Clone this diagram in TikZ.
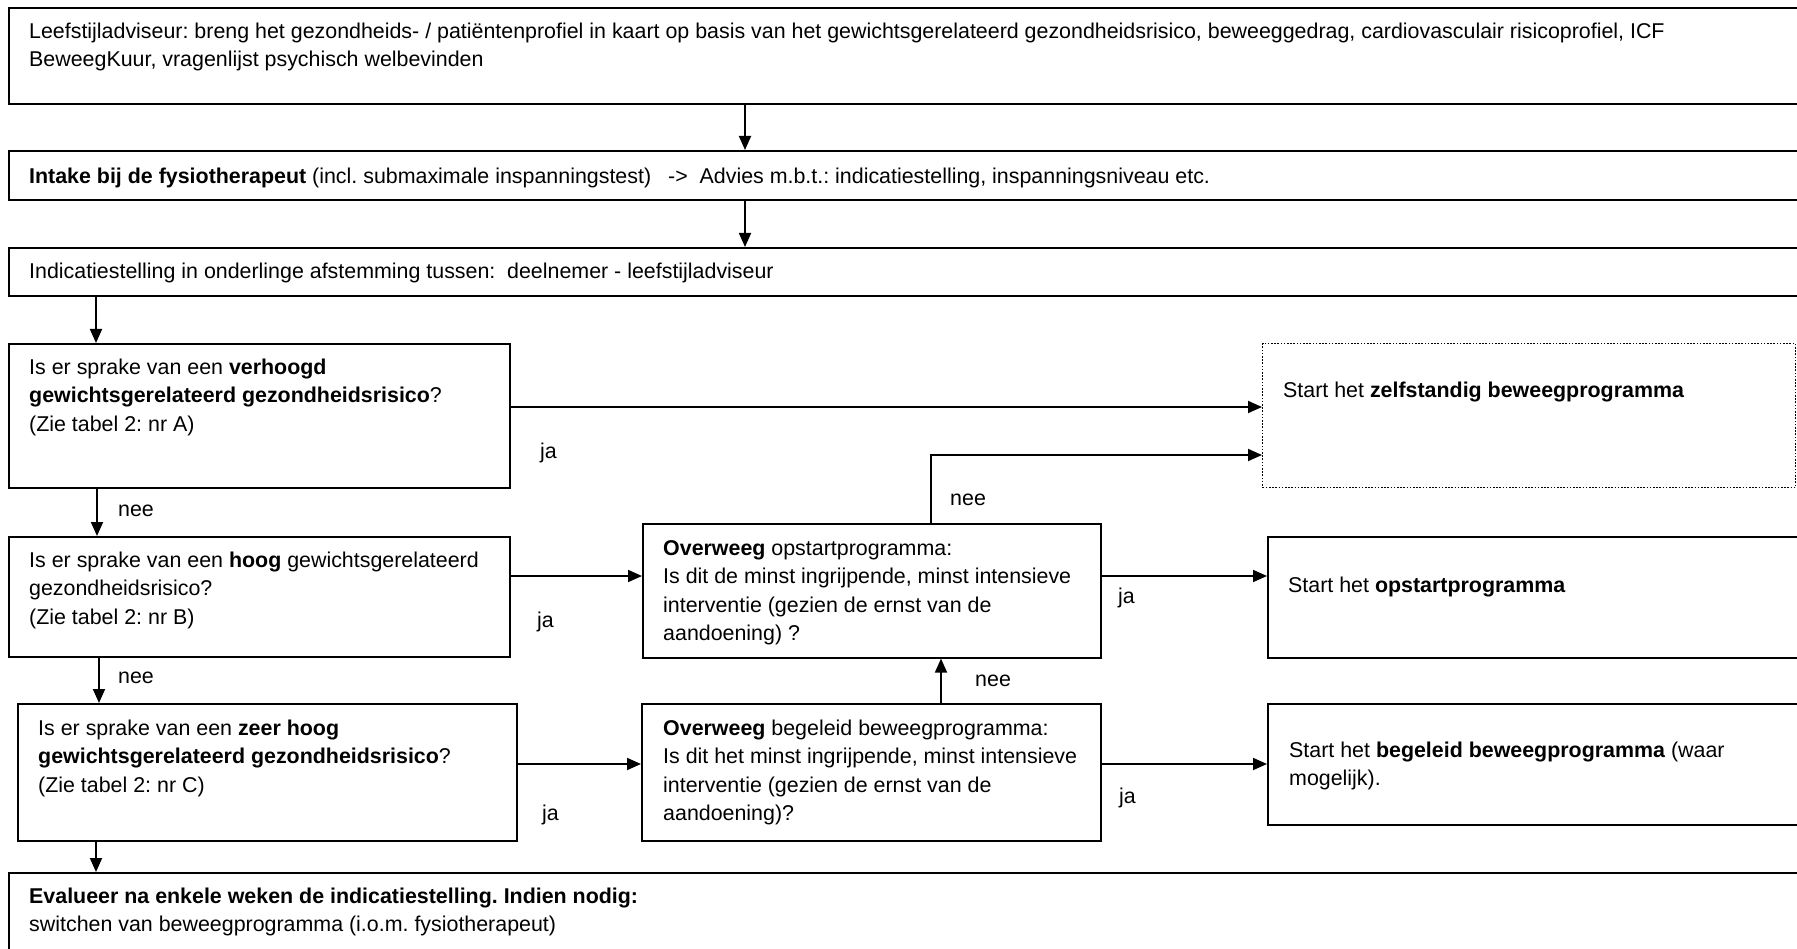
\documentclass[tikz,border=0pt]{standalone}
\usepackage{fontspec}
\setmainfont{Liberation Sans}
\usetikzlibrary{arrows.meta}
\frenchspacing
\newcommand{\fs}{\fontsize{21.4}{28.5}\selectfont\frenchspacing}
\newcommand{\mystrut}{\rule{0pt}{20pt}}
\tikzset{
  box/.style={draw, line width=1.6pt, rectangle, anchor=north west, inner sep=0pt},
  dotbox/.style={draw, line width=1.3pt, dash pattern=on 1.6pt off 1.6pt, rectangle, anchor=north west, inner sep=0pt},
  txt/.style={anchor=north west, inner sep=0pt, align=left, font=\fs},
  lab/.style={anchor=base west, inner sep=0pt, font=\fs},
  arr/.style={line width=1.8pt, -{Triangle[length=14pt,width=12pt]}},
  ln/.style={line width=1.8pt}
}
\begin{document}
\begin{tikzpicture}[x=1pt,y=-1pt]
\useasboundingbox (0,0) rectangle (1797,949);
\clip (0,0) rectangle (1797,949);
\fill[white] (0,0) rectangle (1797,949);
% boxes
\node[box, minimum width=1800pt, minimum height=96pt] (top) at (8,7) {};
\node[box, minimum width=1800pt, minimum height=49pt] (intake) at (8,150) {};
\node[box, minimum width=1800pt, minimum height=48pt] (ind) at (8,247) {};
\node[box, minimum width=501pt, minimum height=144pt] (A) at (8,343) {};
\node[box, minimum width=501pt, minimum height=120pt] (B) at (8,536) {};
\node[box, minimum width=499pt, minimum height=137pt] (C) at (17,703) {};
\node[box, minimum width=458pt, minimum height=134pt] (O1) at (642,523) {};
\node[box, minimum width=459pt, minimum height=137pt] (O2) at (641,703) {};
\node[dotbox, minimum width=533pt, minimum height=144pt] (Z) at (1262,343) {};
\node[box, minimum width=600pt, minimum height=121pt] (S1) at (1267,536) {};
\node[box, minimum width=600pt, minimum height=121pt] (S2) at (1267,703) {};
\node[box, minimum width=1800pt, minimum height=120pt] (final) at (8,872) {};
% texts
\node[txt] (ttop) at (29,18) {\mystrut Leefstijladviseur: breng het gezondheids- / patiëntenprofiel in kaart op basis van het gewichtsgerelateerd gezondheidsrisico, beweeggedrag, cardiovasculair risicoprofiel, ICF\\BeweegKuur, vragenlijst psychisch welbevinden};
\node[txt] (tintake) at (29,163) {\mystrut\textbf{Intake bij de fysiotherapeut} (incl. submaximale inspanningstest)\hspace{0.8em}->\hspace{0.55em}Advies m.b.t.: indicatiestelling, inspanningsniveau etc.};
\node[txt] (tind) at (29,258) {\mystrut Indicatiestelling in onderlinge afstemming tussen:\hspace{0.55em}deelnemer - leefstijladviseur};
\node[txt] (tA) at (29,354) {\mystrut Is er sprake van een \textbf{verhoogd}\\\textbf{gewichtsgerelateerd gezondheidsrisico}?\\(Zie tabel 2: nr A)};
\node[txt] (tB) at (29,547) {\mystrut Is er sprake van een \textbf{hoog} gewichtsgerelateerd\\gezondheidsrisico?\\(Zie tabel 2: nr B)};
\node[txt] (tC) at (38,715) {\mystrut Is er sprake van een \textbf{zeer hoog}\\\textbf{gewichtsgerelateerd gezondheidsrisico}?\\(Zie tabel 2: nr C)};
\node[txt] (tO1) at (663,535) {\mystrut\textbf{Overweeg} opstartprogramma:\\Is dit de minst ingrijpende, minst intensieve\\interventie (gezien de ernst van de\\aandoening) ?};
\node[txt] (tO2) at (663,715) {\mystrut\textbf{Overweeg} begeleid beweegprogramma:\\Is dit het minst ingrijpende, minst intensieve\\interventie (gezien de ernst van de\\aandoening)?};
\node[txt] (tZ) at (1283,377) {\mystrut Start het \textbf{zelfstandig beweegprogramma}};
\node[txt] (tS1) at (1288,572) {\mystrut Start het \textbf{opstartprogramma}};
\node[txt] (tS2) at (1289,737) {\mystrut Start het \textbf{begeleid beweegprogramma} (waar\\mogelijk).};
\node[txt] (tfinal) at (29,883) {\mystrut\textbf{Evalueer na enkele weken de indicatiestelling. Indien nodig:}\\switchen van beweegprogramma (i.o.m. fysiotherapeut)};
% helper coordinates
\coordinate (x1) at (745,0);
\coordinate (x3) at (96,0);
\coordinate (x4) at (97,0);
\coordinate (x5) at (99,0);
\coordinate (x6) at (96,0);
\coordinate (xo1) at (931,0);
\coordinate (xo2) at (941,0);
\coordinate (y7) at (0,407);
\coordinate (y8) at (0,455);
\coordinate (y9) at (0,576);
\coordinate (y12) at (0,764);
% connectors
\draw[arr] (top.south -| x1) -- (intake.north -| x1);
\draw[arr] (intake.south -| x1) -- (ind.north -| x1);
\draw[arr] (ind.south -| x3) -- (A.north -| x3);
\draw[arr] (A.south -| x4) -- (B.north -| x4);
\draw[arr] (B.south -| x5) -- (C.north -| x5);
\draw[arr] (C.south -| x6) -- (final.north -| x6);
\draw[arr] (A.east |- y7) -- (Z.west |- y7);
\draw[arr] (O1.north -| xo1) -- (xo1 |- y8) -- (Z.west |- y8);
\draw[arr] (B.east |- y9) -- (O1.west |- y9);
\draw[arr] (O1.east |- y9) -- (S1.west |- y9);
\draw[arr] (O2.north -| xo2) -- (O1.south -| xo2);
\draw[arr] (C.east |- y12) -- (O2.west |- y12);
\draw[arr] (O2.east |- y12) -- (S2.west |- y12);
% labels
\node[lab] (jaA) at (540,459) {ja};
\node[lab] (neeAB) at (118,516) {nee};
\node[lab] (jaB) at (537,627) {ja};
\node[lab] (neeBC) at (118,683) {nee};
\node[lab] (neeO1) at (950,505) {nee};
\node[lab] (jaO1) at (1118,603) {ja};
\node[lab] (neeO2) at (975,686) {nee};
\node[lab] (jaC) at (542,820) {ja};
\node[lab] (jaO2) at (1119,803) {ja};
\end{tikzpicture}
\end{document}
